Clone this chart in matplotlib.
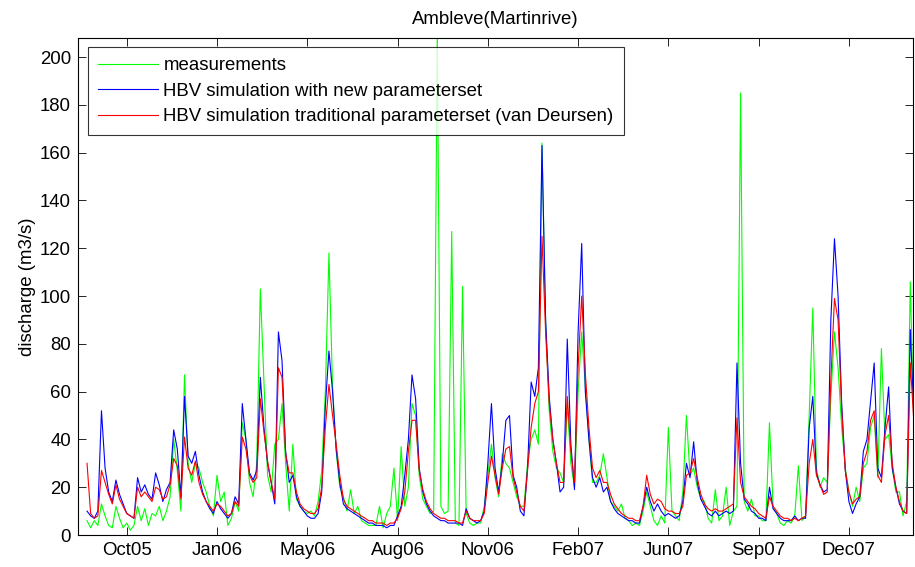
import matplotlib
matplotlib.use("Agg")
import matplotlib.pyplot as plt
import matplotlib.dates as mdates
import pandas as pd

plt.rcParams.update({
    'font.family': ['Liberation Sans', 'DejaVu Sans'],
    'font.size': 13.4,
})

# 4-daily discharge series, Ambleve at Martinrive (m3/s)
dates = pd.date_range('2005-09-01', periods=230, freq='4D')

meas = [
    6, 3, 6, 4, 13, 8, 4, 3, 12, 7,
    3, 5, 2, 4, 12, 6, 11, 4, 9, 8,
    12, 6, 10, 16, 40, 27, 10, 67, 30, 22,
    30, 28, 22, 18, 12, 8, 25, 14, 18, 4,
    7, 14, 10, 47, 40, 22, 16, 30, 103, 64,
    25, 18, 38, 40, 55, 30, 10, 38, 15, 12,
    10, 9, 10, 8, 14, 27, 60, 118, 62, 35,
    20, 16, 10, 19, 9, 12, 6, 5, 4, 4,
    4, 12, 3, 9, 12, 28, 6, 37, 12, 20,
    55, 50, 25, 15, 12, 9, 10, 210, 12, 9,
    10, 127, 5, 4, 104, 9, 5, 4, 5, 5,
    12, 25, 38, 24, 16, 34, 30, 28, 22, 16,
    12, 12, 30, 40, 44, 38, 164, 90, 52, 35,
    28, 26, 22, 55, 30, 20, 60, 85, 62, 40,
    22, 22, 25, 34, 24, 14, 12, 10, 13, 7,
    6, 4, 5, 4, 10, 18, 12, 6, 4, 8,
    5, 45, 10, 8, 6, 18, 50, 25, 28, 20,
    15, 14, 7, 5, 19, 6, 8, 20, 4, 10,
    12, 185, 14, 10, 15, 8, 8, 6, 6, 47,
    12, 9, 5, 4, 6, 5, 8, 29, 6, 8,
    50, 95, 28, 20, 24, 22, 58, 85, 70, 45,
    28, 18, 12, 20, 14, 28, 30, 45, 50, 24,
    78, 40, 42, 28, 18, 18, 8, 14, 106, 45,
]

hbv_new = [
    10, 8, 7, 10, 52, 28, 18, 14, 23, 17,
    13, 9, 8, 7, 24, 18, 21, 17, 15, 26,
    21, 14, 19, 22, 44, 36, 16, 58, 33, 30,
    35, 25, 18, 14, 11, 9, 14, 11, 9, 7,
    9, 16, 13, 55, 40, 26, 23, 27, 66, 45,
    30, 22, 13, 85, 73, 35, 22, 25, 16, 12,
    10, 8, 7, 7, 9, 18, 54, 77, 60, 36,
    22, 13, 11, 10, 9, 8, 7, 6, 5, 5,
    4, 4, 4, 3, 4, 4, 8, 12, 25, 40,
    67, 57, 28, 18, 13, 10, 8, 7, 6, 6,
    5, 5, 5, 5, 4, 11, 7, 6, 5, 6,
    10, 30, 55, 28, 18, 30, 48, 50, 25, 20,
    10, 8, 28, 64, 58, 70, 163, 90, 58, 40,
    30, 18, 20, 82, 38, 19, 85, 122, 60, 40,
    24, 20, 24, 18, 20, 14, 11, 9, 8, 7,
    6, 6, 5, 5, 12, 20, 14, 10, 13, 10,
    8, 9, 8, 7, 8, 14, 30, 24, 39, 22,
    15, 12, 9, 8, 10, 8, 9, 10, 9, 10,
    72, 30, 15, 13, 10, 9, 7, 7, 6, 20,
    11, 9, 7, 6, 6, 6, 8, 6, 7, 7,
    45, 58, 26, 21, 18, 19, 90, 124, 100, 55,
    27, 14, 9, 13, 16, 35, 40, 56, 72, 28,
    24, 45, 62, 28, 20, 13, 10, 9, 86, 50,
]

hbv_trad = [
    30, 9, 7, 8, 27, 22, 17, 13, 21, 15,
    12, 9, 8, 7, 20, 16, 18, 16, 14, 20,
    19, 15, 16, 21, 32, 29, 15, 41, 28, 25,
    31, 22, 17, 14, 12, 10, 13, 12, 10, 8,
    9, 14, 12, 41, 36, 25, 22, 24, 57, 43,
    31, 22, 15, 70, 66, 34, 26, 26, 18, 13,
    11, 10, 9, 9, 11, 20, 45, 63, 50, 38,
    25, 15, 12, 11, 10, 9, 8, 7, 6, 6,
    5, 5, 5, 4, 5, 5, 7, 11, 18, 35,
    48, 48, 27, 19, 14, 11, 9, 8, 7, 7,
    6, 6, 6, 5, 5, 10, 7, 6, 6, 6,
    9, 22, 33, 25, 17, 28, 36, 37, 24, 18,
    12, 10, 27, 45, 55, 60, 125, 85, 55, 40,
    30, 22, 22, 58, 35, 22, 70, 100, 68, 45,
    28, 24, 27, 22, 22, 17, 13, 11, 9, 8,
    7, 7, 6, 6, 12, 25, 17, 13, 15, 14,
    11, 10, 10, 9, 9, 12, 25, 26, 32, 24,
    17, 13, 11, 10, 11, 10, 10, 11, 12, 13,
    49, 22, 16, 14, 12, 11, 9, 8, 7, 16,
    12, 10, 8, 7, 7, 6, 7, 6, 7, 8,
    30, 40, 25, 21, 17, 18, 65, 99, 90, 52,
    27, 18, 13, 15, 16, 30, 35, 48, 52, 25,
    22, 42, 50, 30, 20, 14, 10, 9, 72, 47,
]

labels = ['measurements',
          'HBV simulation with new parameterset',
          'HBV simulation traditional parameterset (van Deursen)']

# tick every 100 days, labelled by month
tick_dates = pd.date_range('2005-10-15', periods=9, freq='100D')

fig = plt.figure(figsize=(9.15, 5.67), dpi=100)
fig.patch.set_facecolor('white')
ax = fig.add_axes([78 / 915, 32 / 567, 835 / 915, 497 / 567])

ax.plot(dates, meas, color=(0, 1, 0), lw=0.8, label=labels[0])
ax.plot(dates, hbv_new, color=(0, 0, 1), lw=0.8, label=labels[1])
ax.plot(dates, hbv_trad, color=(1, 0, 0), lw=0.8, label=labels[2])

ax.set_xlim(pd.Timestamp('2005-08-22'), pd.Timestamp('2008-03-04'))
ax.set_ylim(0, 208)
ax.set_yticks(range(0, 201, 20))
ax.set_xticks(tick_dates)
ax.xaxis.set_major_formatter(mdates.DateFormatter('%b%y'))

ax.tick_params(direction='in', length=6, width=0.6, top=True, right=True,
               labelsize=13.4, colors='black', pad=5)
for sp in ax.spines.values():
    sp.set_linewidth(0.8)
    sp.set_color('black')

ax.set_ylabel('discharge (m3/s)', labelpad=3)
ax.set_title('Ambleve(Martinrive)', fontsize=13.4, pad=10)

leg = ax.legend(loc='upper left', bbox_to_anchor=((88 - 78) / 835, (535 - 47) / 497),
                borderaxespad=0, fancybox=False, frameon=True, edgecolor='black',
                handlelength=3.2, handletextpad=0.3, labelspacing=0.45,
                borderpad=0.55, fontsize=13.4)
leg.get_frame().set_linewidth(0.8)

fig.savefig('out.png', dpi=100, facecolor='white')
